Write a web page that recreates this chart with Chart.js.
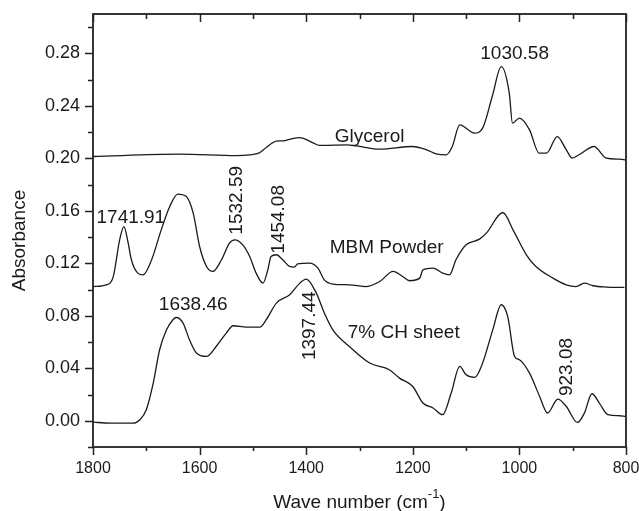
<!DOCTYPE html>
<html>
<head>
<meta charset="utf-8">
<script src="https://cdn.jsdelivr.net/npm/chart.js@4.4.1/dist/chart.umd.min.js"></script>
<style>
html,body{margin:0;padding:0;background:#ffffff;}
#contenedor{width:639px;height:511px;}
</style>
</head>
<body>
<div id="contenedor"><canvas id="espectro"></canvas></div>
<script>

// Glicerol
const glicerolX = [1800,1637,1531,1506,1488,1475,1456,1444,1426,1412,1388,1375,1324,1306,1262,1201,1174,1156,1137,1126,1112,1084,1069,1051,1034,1019,1013,1000,981,963,949,929,912,901,888,860,837,812,801];
const glicerolY = [0.2014,0.2032,0.2021,0.2027,0.2042,0.2082,0.2131,0.2133,0.2151,0.2158,0.2120,0.2098,0.2103,0.2095,0.2070,0.2090,0.2065,0.2034,0.2027,0.2090,0.2255,0.2192,0.2230,0.2471,0.2699,0.2497,0.2268,0.2306,0.2217,0.2040,0.2040,0.2166,0.2065,0.2002,0.2027,0.2090,0.2002,0.1994,0.1989];

// MBM Powder
const mbmX = [1800,1775,1762,1750,1742,1734,1728,1716,1706,1690,1672,1656,1641,1625,1612,1600,1587,1575,1559,1544,1534,1519,1506,1494,1481,1472,1466,1456,1444,1431,1422,1416,1394,1378,1366,1350,1319,1287,1262,1237,1219,1206,1187,1181,1162,1144,1131,1119,1100,1075,1062,1031,1012,987,969,937,912,894,878,862,837,803];
const mbmY = [0.1023,0.1036,0.1099,0.1379,0.1480,0.1354,0.1227,0.1125,0.1112,0.1227,0.1455,0.1633,0.1727,0.1709,0.1582,0.1328,0.1176,0.1138,0.1227,0.1354,0.1379,0.1341,0.1252,0.1125,0.1049,0.1150,0.1252,0.1265,0.1227,0.1176,0.1171,0.1196,0.1202,0.1163,0.1074,0.1042,0.1036,0.1023,0.1061,0.1138,0.1099,0.1067,0.1087,0.1150,0.1163,0.1125,0.1112,0.1227,0.1341,0.1384,0.1430,0.1587,0.1455,0.1265,0.1176,0.1087,0.1036,0.1023,0.1049,0.1029,0.1019,0.1016];

// 7% CH sheet
const laminaX = [1800,1769,1725,1712,1700,1687,1675,1662,1650,1644,1631,1619,1606,1587,1569,1550,1537,1512,1487,1475,1456,1431,1412,1400,1381,1366,1350,1319,1281,1244,1225,1200,1181,1162,1144,1128,1112,1100,1084,1069,1050,1034,1022,1009,1000,981,962,947,928,912,891,878,864,850,834,812,801];
const laminaY = [-0.0010,-0.0018,-0.0018,0.0008,0.0084,0.0287,0.0541,0.0693,0.0770,0.0787,0.0744,0.0617,0.0516,0.0490,0.0566,0.0668,0.0724,0.0714,0.0714,0.0770,0.0897,0.0960,0.1049,0.1080,0.0973,0.0821,0.0693,0.0566,0.0440,0.0389,0.0325,0.0261,0.0135,0.0097,0.0046,0.0211,0.0414,0.0350,0.0330,0.0440,0.0693,0.0884,0.0795,0.0490,0.0465,0.0363,0.0185,0.0059,0.0165,0.0109,-0.0013,0.0059,0.0206,0.0135,0.0046,0.0038,0.0033];

// ejes
const ejeXMin = 800;
const ejeXMax = 1800;
const ejeYMin = -0.02;
const ejeYMax = 0.31;

// anotaciones (texto, posición en unidades de datos, giro)
const etiquetasTexto = ["1030.58","Glycerol","MBM Powder","7% CH sheet","1741.91","1638.46","1532.59","1454.08","1397.44","923.08"];
const etiquetasX = [1009,1281,1249,1217,1729,1612,1531,1451,1394,912];
const etiquetasY = [0.2796,0.2164,0.1318,0.067,0.1547,0.0884,0.168,0.1535,0.0724,0.041];
const etiquetasGiro = [0,0,0,0,0,0,-90,-90,-90,-90];

const fuente = "'Liberation Sans', Arial, sans-serif";
const colorLinea = "#1a1a1a";

function puntos(xs, ys){
return xs.map((x,i)=>({x:x,y:ys[i]}));
}

function serie(nombre, xs, ys){
return {
label:nombre,
data:puntos(xs,ys),
borderColor:colorLinea,
borderWidth:1.3,
pointRadius:0,
fill:false,
cubicInterpolationMode:"monotone"
};
}

const marcasPlugin = {
id:"marcas",
afterDraw(chart){

const ctx = chart.ctx;
const area = chart.chartArea;
const ex = chart.scales.x;
const ey = chart.scales.y;

ctx.save();
ctx.strokeStyle = "#222";
ctx.lineWidth = 1.8;
ctx.strokeRect(area.left, area.top, area.right-area.left, area.bottom-area.top);

ctx.lineWidth = 1.5;
ctx.beginPath();

// marcas eje x (abajo hacia fuera, arriba hacia dentro)
for(let v=ejeXMin; v<=ejeXMax; v+=100){
const px = Math.round(ex.getPixelForValue(v))+0.5;
const mayor = v%200===0;
const largoAbajo = mayor ? 8 : 4;
const largoArriba = mayor ? 8 : 5;
ctx.moveTo(px, area.bottom);
ctx.lineTo(px, area.bottom+largoAbajo);
ctx.moveTo(px, area.top);
ctx.lineTo(px, area.top+largoArriba);
}

// marcas eje y
for(let i=-1; i<=15; i++){
const v = i*0.02;
const py = Math.round(ey.getPixelForValue(v))+0.5;
const mayor = i>=0 && i%2===0;
const largo = mayor ? 8 : 5;
ctx.moveTo(area.left, py);
ctx.lineTo(area.left-largo, py);
}
ctx.stroke();

// anotaciones
ctx.fillStyle = "#1a1a1a";
ctx.font = "19px " + fuente;
ctx.textAlign = "center";
ctx.textBaseline = "middle";
etiquetasTexto.forEach((t,i)=>{
const px = ex.getPixelForValue(etiquetasX[i]);
const py = ey.getPixelForValue(etiquetasY[i]);
ctx.save();
ctx.translate(px,py);
ctx.rotate(etiquetasGiro[i]*Math.PI/180);
ctx.fillText(t,0,0);
ctx.restore();
});

// título eje y
ctx.save();
ctx.translate(20, (area.top+area.bottom)/2+10);
ctx.rotate(-Math.PI/2);
ctx.font = "19px " + fuente;
ctx.fillText("Absorbance",0,0);
ctx.restore();

// título eje x con superíndice
const base = "Wave number (cm";
const sup = "-1";
const cierre = ")";
ctx.font = "19px " + fuente;
const w1 = ctx.measureText(base).width;
const w3 = ctx.measureText(cierre).width;
ctx.font = "13px " + fuente;
const w2 = ctx.measureText(sup).width;
const centro = (area.left+area.right)/2;
let x0 = centro - (w1+w2+w3)/2;
const yBase = 508;
ctx.textAlign = "left";
ctx.textBaseline = "alphabetic";
ctx.font = "19px " + fuente;
ctx.fillText(base, x0, yBase);
ctx.font = "13px " + fuente;
ctx.fillText(sup, x0+w1, yBase-10);
ctx.font = "19px " + fuente;
ctx.fillText(cierre, x0+w1+w2, yBase);

ctx.restore();
}
};

function crearGrafico(){

const ctx = document.getElementById("espectro");

new Chart(ctx,{
type:"line",
data:{
datasets:[
serie("Glycerol", glicerolX, glicerolY),
serie("MBM Powder", mbmX, mbmY),
serie("7% CH sheet", laminaX, laminaY)
]
},
options:{
responsive:true,
maintainAspectRatio:false,
animation:false,
layout:{padding:{left:0,top:14,right:13,bottom:0}},
plugins:{
legend:{display:false},
tooltip:{enabled:false}
},
scales:{
x:{
type:"linear",
reverse:true,
min:ejeXMin,
max:ejeXMax,
afterFit:(s)=>{s.height=64;s.paddingLeft=0;s.paddingRight=0;},
grid:{display:false,drawTicks:false},
border:{display:false},
ticks:{
stepSize:100,
padding:12,
maxRotation:0,
autoSkip:false,
color:"#1a1a1a",
font:{family:fuente,size:16},
callback:(v)=> v%200===0 ? String(v) : ""
}
},
y:{
type:"linear",
min:ejeYMin,
max:ejeYMax,
afterFit:(s)=>{s.width=93;s.paddingTop=0;s.paddingBottom=0;},
grid:{display:false,drawTicks:false},
border:{display:false},
ticks:{
stepSize:0.02,
padding:13,
autoSkip:false,
color:"#1a1a1a",
font:{family:fuente,size:18},
callback:(v)=>{
const n = Math.round(v*100);
return (n>=0 && n<=28 && n%4===0) ? (n/100).toFixed(2) : "";
}
}
}
}
},
plugins:[marcasPlugin]
});

}

crearGrafico();
</script>
</body>
</html>
